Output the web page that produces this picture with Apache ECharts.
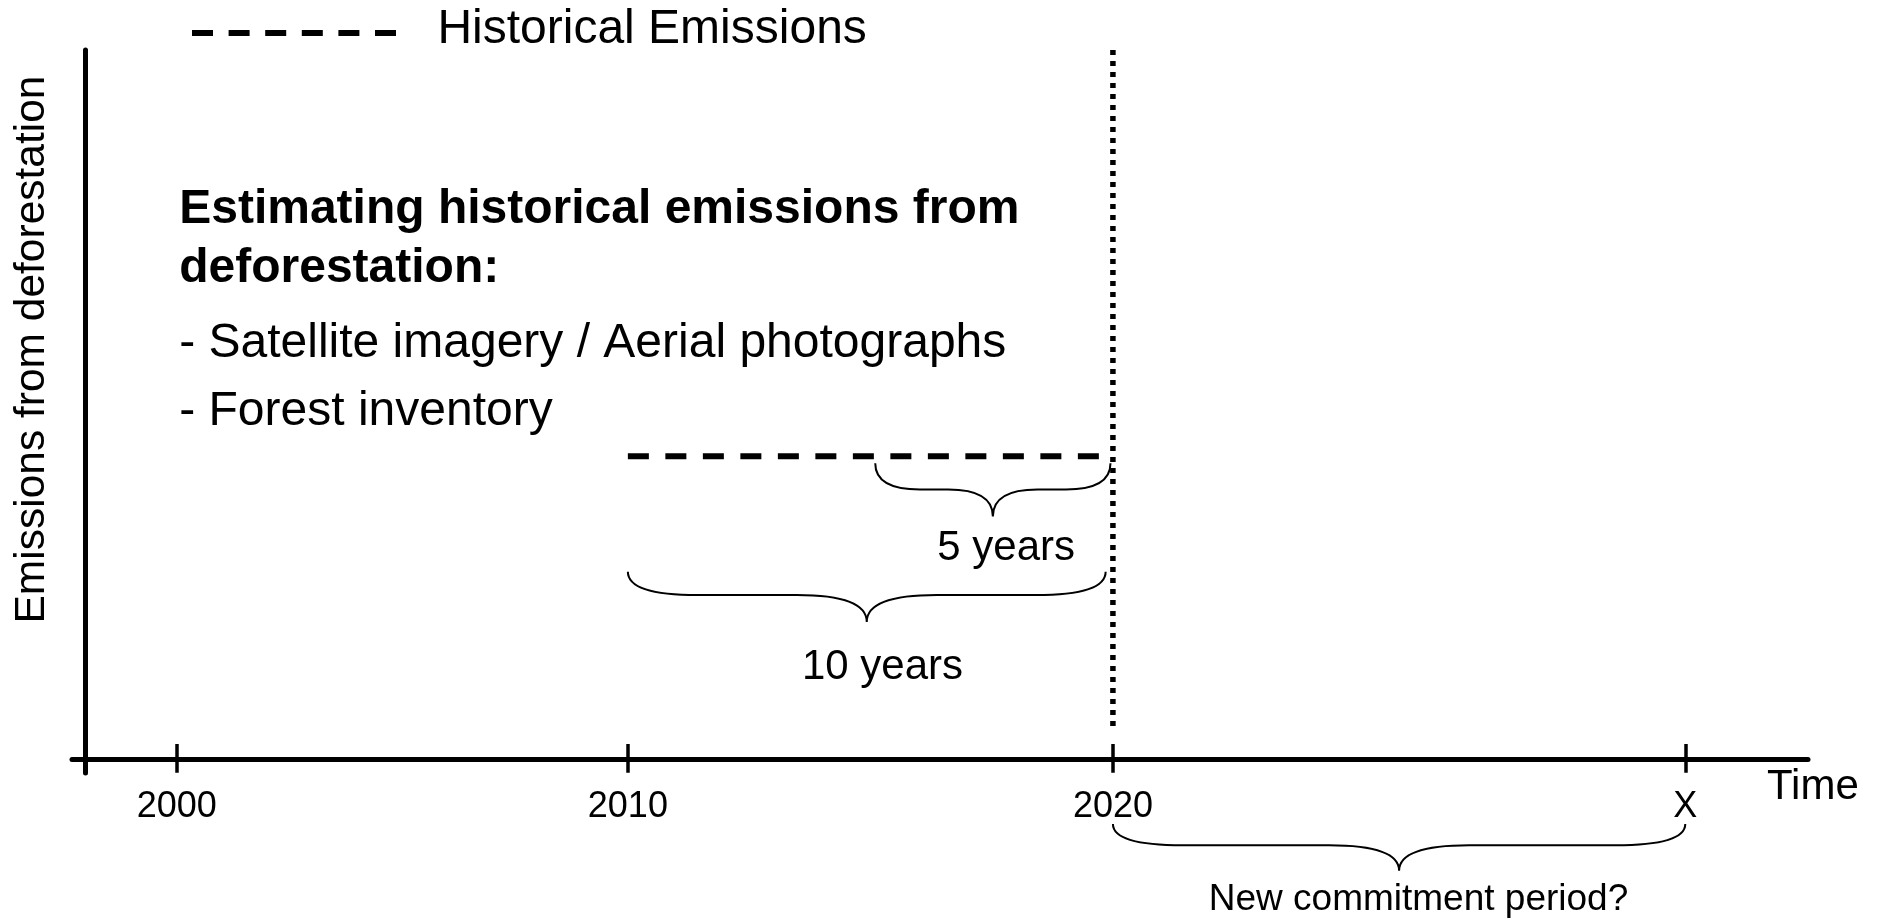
<!DOCTYPE html>
<html>
<head>
<meta charset="utf-8">
<script src="https://cdn.jsdelivr.net/npm/echarts@6/dist/echarts.min.js"></script>
<style>
  html, body { margin: 0; padding: 0; background: #fff; }
  #chart { width: 1877px; height: 918px; }
</style>
</head>
<body>
<div id="chart"></div>
<script>
// time axis (decimal years), ticks as placed in the figure
const tickYears = [2000.7, 2010, 2020, 2031.8];
const tickLabels = ["2000", "2010", "2020", "X"];

// reference period emissions (dashed) and the cut-off year (dotted)
const historical = [[2010, 42.7], [2020, 42.7]];
const cutoff = [[2020, 100], [2020, 4.35]];

// braces: [start year, end year, top, middle, tip]
const braces = [
  [2015.1, 2019.95, 41.7, 38.0, 34.2],
  [2010, 2019.85, 26.4, 23.1, 19.3],
  [2020, 2031.8, -9.2, -12.2, -15.8],
];
const braceLabels = [
  [2017.8, 29.7, "5 years"],
  [2015.25, 12.95, "10 years"],
];
const periodLabel = [[2026.3, -19.95, "New commitment period?"]];

const headingLines = [
  [2000.75, 77.45, "Estimating historical emissions from"],
  [2000.75, 69.1, "deforestation:"],
];
const bulletLines = [
  [2000.75, 58.55, "- Satellite imagery / Aerial photographs"],
  [2000.75, 48.95, "- Forest inventory"],
];

const FONT = "'Liberation Sans', Arial, Helvetica, sans-serif";

function textSeries(rows, size, weight, align) {
  return {
    type: "custom",
    clip: false,
    silent: true,
    data: rows.map((r) => [r[0], r[1]]),
    renderItem: (params, api) => {
      const p = api.coord([api.value(0), api.value(1)]);
      return {
        type: "text",
        x: p[0],
        y: p[1],
        style: {
          text: rows[params.dataIndex][2],
          fill: "#000",
          font: `${weight} ${size}px ${FONT}`,
          align: align,
          verticalAlign: "middle",
        },
      };
    },
  };
}

const chart = echarts.init(document.getElementById("chart"));

const option = {
  animation: false,
  backgroundColor: "#fff",
  textStyle: { fontFamily: FONT },
  // the dashed key sits a little lower than its text, so key and text are two legends
  legend: [
    {
      left: 184,
      top: 25,
      selectedMode: false,
      itemWidth: 204,
      itemHeight: 6,
      data: ["Historical Emissions"],
      formatter: () => "",
      itemStyle: { opacity: 0 },
      lineStyle: { color: "#000", width: 6, type: [21, 15.6], cap: "butt" },
    },
    {
      left: 425,
      top: 1,
      selectedMode: false,
      itemWidth: 0,
      itemHeight: 6,
      data: ["Historical Emissions"],
      itemStyle: { opacity: 0 },
      lineStyle: { opacity: 0, width: 0 },
      textStyle: { fontSize: 48, color: "#000", fontFamily: FONT },
    },
  ],
  grid: { left: 72, right: 69, top: 50, bottom: 145 },
  xAxis: [
    {
      type: "value",
      position: "bottom",
      min: 1998.54,
      max: 2034.33,
      offset: -14,
      splitLine: { show: false },
      axisLine: { lineStyle: { color: "#000", width: 5 } },
      axisTick: {
        customValues: tickYears,
        length: 14,
        lineStyle: { color: "#000", width: 3.5 },
      },
      axisLabel: {
        customValues: tickYears,
        margin: 30,
        fontSize: 36,
        color: "#000",
        fontFamily: FONT,
        formatter: (v) => {
          let best = 0;
          tickYears.forEach((t, i) => {
            if (Math.abs(t - v) < Math.abs(tickYears[best] - v)) best = i;
          });
          return tickLabels[best];
        },
      },
      name: "Time",
      nameLocation: "end",
      nameGap: -41,
      nameTextStyle: {
        fontSize: 42,
        color: "#000",
        fontFamily: FONT,
        verticalAlign: "top",
        padding: [8, 0, 0, 0],
      },
    },
    {
      type: "value",
      position: "bottom",
      min: 1998.54,
      max: 2034.33,
      offset: -14,
      splitLine: { show: false },
      axisLine: { show: false },
      axisTick: {
        inside: true,
        customValues: tickYears,
        length: 15,
        lineStyle: { color: "#000", width: 3.5 },
      },
      axisLabel: { show: false },
    },
  ],
  yAxis: {
    type: "value",
    min: -2,
    max: 100,
    offset: -13,
    splitLine: { show: false },
    axisTick: { show: false },
    axisLabel: { show: false },
    axisLine: { show: true, lineStyle: { color: "#000", width: 5 } },
    name: "Emissions from deforestation",
    nameLocation: "middle",
    nameGap: 31,
    nameTextStyle: {
      fontSize: 42.5,
      color: "#000",
      fontFamily: FONT,
      padding: [0, 0, 0, 124],
    },
  },
  series: [
    {
      name: "Historical Emissions",
      type: "line",
      symbol: "none",
      silent: true,
      data: historical,
      lineStyle: { color: "#000", width: 6, type: [21, 16.5], cap: "butt" },
      itemStyle: { color: "#000" },
    },
    {
      name: "cutoff",
      type: "line",
      symbol: "none",
      silent: true,
      data: cutoff,
      lineStyle: { color: "#000", width: 5.5, type: [5, 6], cap: "butt" },
    },
    {
      name: "braces",
      type: "custom",
      clip: false,
      silent: true,
      data: braces,
      encode: { x: [0, 1], y: [2, 3, 4] },
      renderItem: (params, api) => {
        const a0 = api.coord([api.value(0), api.value(2)]);
        const a1 = api.coord([api.value(1), api.value(2)]);
        const ym = api.coord([api.value(0), api.value(3)])[1];
        const yt = api.coord([api.value(0), api.value(4)])[1];
        const x0 = a0[0];
        const x1 = a1[0];
        const y0 = a0[1];
        const xc = (x0 + x1) / 2;
        const r = Math.min(70, (x1 - x0) * 0.19);
        const d =
          `M${x0},${y0} Q${x0},${ym} ${x0 + r},${ym} L${xc - r},${ym} ` +
          `Q${xc},${ym} ${xc},${yt} Q${xc},${ym} ${xc + r},${ym} ` +
          `L${x1 - r},${ym} Q${x1},${ym} ${x1},${y0}`;
        return {
          type: "path",
          shape: { pathData: d },
          style: { fill: null, stroke: "#000", lineWidth: 2 },
        };
      },
    },
    textSeries(braceLabels, 42, "normal", "center"),
    textSeries(periodLabel, 37, "normal", "center"),
    textSeries(headingLines, 48, "bold", "left"),
    textSeries(bulletLines, 48, "normal", "left"),
  ],
};

chart.setOption(option);
</script>
</body>
</html>
